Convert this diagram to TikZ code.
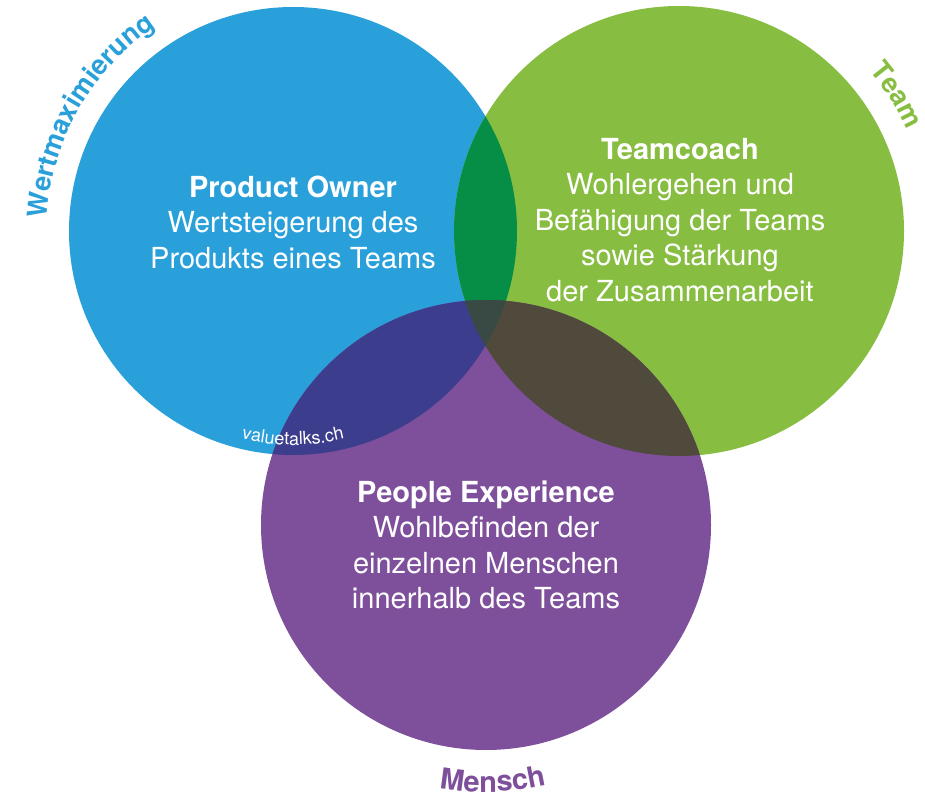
\documentclass[tikz,border=0pt]{standalone}
\usepackage{fontspec}
\setmainfont{TeX Gyre Heros}
\usetikzlibrary{decorations.text}

\definecolor{poblue}{RGB}{41,160,218}
\definecolor{tcgreen}{RGB}{135,189,65}
\definecolor{pxpurple}{RGB}{126,80,155}
\definecolor{bluegreen}{RGB}{7,142,70}
\definecolor{bluepurple}{RGB}{61,61,142}
\definecolor{greenpurple}{RGB}{80,74,60}
\definecolor{allthree}{RGB}{57,73,68}

\newcommand\labelfont{\bfseries\fontsize{27}{30}\selectfont}
\newcommand\menschfont{\bfseries\fontsize{29}{32}\selectfont}
\newcommand\webfont{\fontsize{18}{20}\selectfont}

\tikzset{
  kreis/.style={circle, inner sep=0pt, outer sep=0pt},
  rolle/.style={text=white, align=center, font=\fontsize{29}{35.5}\selectfont},
  bogen/.style={decorate, decoration={text along path, text align=center}},
}

\begin{document}
\begin{tikzpicture}[x=1pt, y=1pt]
  \useasboundingbox (0,0) rectangle (925,798);

  % the three circles
  \node[kreis, fill=poblue,   minimum size=448pt] (po) at (293,567) {};
  \node[kreis, fill=tcgreen,  minimum size=450pt] (tc) at (679,567) {};
  \node[kreis, fill=pxpurple, minimum size=450pt] (px) at (486,273) {};

  % overlaps
  \begin{scope}
    \clip (po.center) circle (224);
    \fill[bluegreen] (tc.center) circle (225);
    \fill[bluepurple] (px.center) circle (225);
  \end{scope}
  \begin{scope}
    \clip (tc.center) circle (225);
    \fill[greenpurple] (px.center) circle (225);
    \clip (px.center) circle (225);
    \fill[allthree] (po.center) circle (224);
  \end{scope}

  % roles
  \node[rolle] (potext) at (293,576) {\textbf{Product Owner}\\Wertsteigerung des\\Produkts eines Teams};
  \node[rolle] (tctext) at (680,578) {\textbf{Teamcoach}\\Wohlergehen und\\Bef\"ahigung der Teams\\sowie St\"arkung\\der Zusammenarbeit};
  \node[rolle] (pxtext) at (486,253) {\textbf{People Experience}\\Wohlbefinden der\\einzelnen Menschen\\innerhalb des Teams};

  % labels along the circles
  \path[bogen, decoration={text={|\labelfont|Wertmaximierung}, text color=poblue}]
    (po.center) ++(186:246) arc (186:115:246);
  \path[bogen, decoration={text={|\labelfont|Team}, text color=tcgreen}]
    (tc.center) ++(60:249) arc (60:4:249);
  \path[bogen, decoration={text={|\menschfont|Mensch}, text color=pxpurple}]
    (px.center) ++(246.5:267) arc (246.5:296.5:267);
  \path[bogen, decoration={text={|\webfont|valuetalks.ch}, text color=white}]
    (po.center) ++(250:214) arc (250:290:214);
\end{tikzpicture}
\end{document}
